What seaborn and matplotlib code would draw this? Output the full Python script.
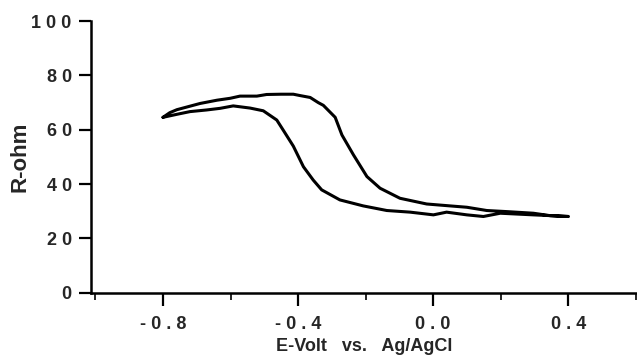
import matplotlib
matplotlib.use("Agg")
import matplotlib.pyplot as plt
import seaborn as sns
import pandas as pd

# forward sweep (upper branch), -0.8 -> 0.4 V
fwd_e = [-0.800, -0.780, -0.759, -0.720, -0.690, -0.640, -0.601, -0.572, -0.522, -0.493,
         -0.450, -0.414, -0.394, -0.364, -0.340, -0.325, -0.290, -0.270, -0.236, -0.196,
         -0.157, -0.098, -0.019, 0.050, 0.100, 0.159, 0.218, 0.297, 0.347, 0.401]
fwd_r = [64.6, 66.3, 67.4, 68.7, 69.7, 70.9, 71.6, 72.4, 72.4, 73.0,
         73.1, 73.1, 72.6, 71.9, 70.0, 69.0, 64.6, 58.1, 50.8, 42.8,
         38.5, 34.8, 32.7, 32.0, 31.5, 30.3, 29.9, 29.3, 28.4, 28.1]

# reverse sweep (lower branch), 0.4 -> -0.8 V
rev_e = [0.401, 0.350, 0.297, 0.199, 0.149, 0.100, 0.040, 0.001, -0.068, -0.137,
         -0.207, -0.276, -0.330, -0.355, -0.384, -0.414, -0.444, -0.463, -0.503,
         -0.542, -0.592, -0.631, -0.671, -0.720, -0.759, -0.800]
rev_r = [28.1, 28.4, 28.7, 29.3, 28.1, 28.7, 29.7, 28.7, 29.7, 30.3,
         32.0, 34.2, 37.9, 41.5, 46.4, 54.0, 59.9, 63.6, 67.0,
         68.0, 68.8, 67.9, 67.3, 66.7, 65.7, 64.6]

x_ticks = [-0.8, -0.4, 0.0, 0.4]
x_minor = [-1.0, -0.6, -0.2, 0.2, 0.6]
x_labels = ["- 0 . 8", "- 0 . 4", "0 . 0", "0 . 4"]
y_ticks = [0, 20, 40, 60, 80, 100]
y_labels = ["0", "2 0", "4 0", "6 0", "8 0", "1 0 0"]

df = pd.DataFrame({
    "E": fwd_e + rev_e,
    "R": fwd_r + rev_r,
})

sns.set_style("ticks")
plt.rcParams["font.family"] = ["Liberation Sans", "DejaVu Sans"]
plt.rcParams["font.weight"] = "bold"

fig = plt.figure(figsize=(6.37, 3.58), dpi=100)
ax = fig.add_axes([0.143, 0.182, 0.857, 0.759])

sns.lineplot(data=df, x="E", y="R", sort=False, color="black", linewidth=2.2,
             estimator=None, ax=ax)

ax.set_xlim(-1.013, 0.604)
ax.set_ylim(0, 100)
ax.set_xticks(x_ticks)
ax.set_xticklabels(x_labels, fontsize=13, fontweight="bold")
ax.set_xticks(x_minor, minor=True)
ax.set_yticks(y_ticks)
ax.set_yticklabels(y_labels, fontsize=13, fontweight="bold")

ax.tick_params(axis="y", which="major", direction="out", length=9, width=1.6,
               color="black", pad=5)
ax.tick_params(axis="x", which="major", direction="out", length=9, width=1.6,
               color="black", pad=8)
ax.tick_params(axis="x", which="minor", direction="out", length=5, width=1.4)

for side in ["top", "right"]:
    ax.spines[side].set_visible(False)
for side in ["left", "bottom"]:
    ax.spines[side].set_linewidth(1.8)
    ax.spines[side].set_color("black")

ax.set_xlabel("E-Volt   vs.   Ag/AgCl", fontsize=13, fontweight="bold", labelpad=3)
ax.set_ylabel("R-ohm", fontsize=16, fontweight="bold", labelpad=1)

fig.savefig("out.png", dpi=100)
